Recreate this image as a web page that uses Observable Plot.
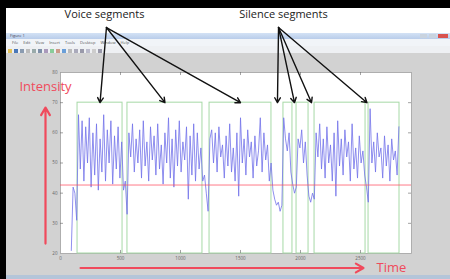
<!DOCTYPE html>
<html><head><meta charset="utf-8">
<script src="https://cdn.jsdelivr.net/npm/d3@7"></script>
<script src="https://cdn.jsdelivr.net/npm/@observablehq/plot@0.6"></script>
<style>
html,body{margin:0;padding:0;background:#000;}
#wrap{position:relative;width:450px;height:279px;overflow:hidden;background:#000;font-family:"Open Sans",sans-serif;}
.abs{position:absolute;}
.menu span{margin-right:5px;}
.tb i{display:inline-block;width:4px;height:4px;margin-right:2px;vertical-align:middle;}
</style></head><body>
<div id="wrap">
  <div class="abs" style="left:6px;top:8px;width:444px;height:25px;background:#fff"></div>
  <div class="abs" style="left:6px;top:33px;width:444px;height:6px;background:linear-gradient(#d3e2f5,#b9cdea)">
    <span class="abs" style="left:4px;top:0px;font-size:4px;line-height:5px;color:#445">Figure 1</span>
    <span class="abs" style="left:414px;top:1px;width:7px;height:4px;background:#c9d3df"></span>
    <span class="abs" style="left:423px;top:1px;width:7px;height:4px;background:#c9d3df"></span>
    <span class="abs" style="left:432px;top:1px;width:10px;height:4px;background:#d9534f"></span>
  </div>
  <div class="abs menu" style="left:6px;top:39px;width:444px;height:7px;background:#f1f4f8;font-size:4px;line-height:7px;color:#555;padding-left:6px;box-sizing:border-box">
    <span>File</span><span>Edit</span><span>View</span><span>Insert</span><span>Tools</span><span>Desktop</span><span>Window</span><span>Help</span>
  </div>
  <div class="abs tb" style="left:6px;top:46px;width:444px;height:7px;background:#eef0f3;line-height:7px;padding-left:2px;box-sizing:border-box">
    <i style="background:#e3c25a"></i><i style="background:#4a78b8"></i><i style="background:#8a9bb0"></i><i style="background:#bbb"></i><i style="background:#9aa"></i><i style="background:#7d8fa8"></i><i style="background:#a9b"></i><i style="background:#8c9"></i><i style="background:#c98"></i><i style="background:#6a9fd8"></i><i style="background:#bbb"></i><i style="background:#aab"></i><i style="background:#99a"></i><i style="background:#bbc"></i><i style="background:#ccc"></i><i style="background:#99a"></i>
  </div>
  <div class="abs" style="left:6px;top:53px;width:444px;height:222px;background:#d2d2d2"></div>
  <div class="abs" style="left:6px;top:275px;width:444px;height:4px;background:#b4c5d9"></div>
  <div id="chart" class="abs" style="left:0;top:0"></div>
</div>
<script>
// signal: intensity per analysis frame
const startFrame = 90;
const frameStep = 15;
const intensity = [
  21, 42, 40, 31,
  66,48,64,44,62,50,65,42,60,46,63,41,58,47,66,44,61,50,64,43,59,48,62,45,57,
  41,44,33,
  60,52,63,47,58,50,61,45,64,49,57,44,62,51,59,46,63,48,56,43,60,50,65,45,58,42,61,49,64,47,57,51,62,38,59,46,63,44,60,48,55,
  44,46,40,34,
  58,61,50,60,47,62,52,56,45,59,49,63,47,55,44,60,39,65,50,58,46,61,52,57,45,59,49,54,65,47,60,51,56,44,50,
  41,38,36,37,34,36,
  65,58,54,60,47,
  43,40,42,
  58,55,61,50,57,46,
  39,37,40,38,
  60,52,63,48,58,45,62,50,56,44,60,39,64,49,58,46,61,52,57,44,63,48,55,45,59,50,54,46,
  42,37,
  68,50,57,47,60,52,55,45,59,49,56,44,58,51,54,46,62
];
// voice segments (start frame, end frame)
const segStarts = [142, 558, 1242, 1858, 1967, 2117, 2567];
const segEnds   = [517, 1183, 1758, 1933, 2067, 2542, 2825];
const boxTop = 70;
const threshold = 42.7;
const xTicks = [0, 500, 1000, 1500, 2000, 2500];
const yTicks = [20, 30, 40, 50, 60, 70, 80];
const voiceArrowSegs = [0, 1, 2];      // segments pointed at
const silenceArrowGaps = [2, 3, 4, 5]; // gaps (after segment i) pointed at

const series = intensity.map((v, i) => ({frame: startFrame + i * frameStep, v}));
const segments = segStarts.map((s, i) => ({start: s, end: segEnds[i]}));

// annotation anchors (data space, outside the axes)
const voiceLabel = {x: 367, y: 99.3, apexX: 383, apexY: 94.9};
const silenceLabel = {x: 1858, y: 99.3, apexX: 1817, apexY: 94.9};
const intensityLabel = {x: -125, y: 75.4, arrowY1: 23.3, arrowY2: 68.4};
const timeLabel = {x: 2758, y: 15.2, arrowX1: 167, arrowX2: 2525};

const voiceArrows = voiceArrowSegs.map(i => ({x1: voiceLabel.apexX, y1: voiceLabel.apexY, x2: (segments[i].start + segments[i].end) / 2, y2: boxTop}));
const silenceArrows = silenceArrowGaps.map(i => ({x1: silenceLabel.apexX, y1: silenceLabel.apexY, x2: (segments[i].end + segments[i + 1].start) / 2, y2: boxTop}));

const red = "#f04a5c";
const xMax = 2925;
const tickX = xTicks.filter(t => t > 0);
const tickY = yTicks.filter(t => t > 20 && t < 80);

const plot = Plot.plot({
  width: 450, height: 279,
  marginLeft: 60, marginRight: 39, marginTop: 72, marginBottom: 26,
  x: {domain: [0, xMax]},
  y: {domain: [20, 80]},
  style: {background: "transparent", overflow: "visible", fontFamily: "'Open Sans', sans-serif"},
  marks: [
    Plot.frame({fill: "white", stroke: "#a0a0a0", strokeWidth: 0.8}),
    Plot.rect(segments, {x1: "start", x2: "end", y1: 20, y2: boxTop, fill: "none", stroke: "#a6d9a6", strokeWidth: 1}),
    Plot.line(series, {x: "frame", y: "v", stroke: "#7272ea", strokeWidth: 0.8}),
    Plot.ruleY([threshold], {stroke: "#ff4d62", strokeWidth: 1, strokeOpacity: 0.75}),
    Plot.ruleX(tickX, {x: d => d, y1: 20, y2: 21, stroke: "#666", strokeWidth: 0.6}),
    Plot.ruleX(tickX, {x: d => d, y1: 79, y2: 80, stroke: "#666", strokeWidth: 0.6}),
    Plot.ruleY(tickY, {y: d => d, x1: 0, x2: 25, stroke: "#666", strokeWidth: 0.6}),
    Plot.ruleY(tickY, {y: d => d, x1: xMax - 25, x2: xMax, stroke: "#666", strokeWidth: 0.6}),
    Plot.axisX({ticks: xTicks, tickSize: 0, tickPadding: 3, fontSize: 4.5, fill: "#666", tickFormat: d => String(d), label: null}),
    Plot.axisY({ticks: yTicks, tickSize: 0, tickPadding: 3, fontSize: 4.5, fill: "#666", tickFormat: d => String(d), label: null}),
    Plot.arrow(voiceArrows, {x1: "x1", y1: "y1", x2: "x2", y2: "y2", stroke: "#111", strokeWidth: 1.4, headLength: 6}),
    Plot.arrow(silenceArrows, {x1: "x1", y1: "y1", x2: "x2", y2: "y2", stroke: "#111", strokeWidth: 1.4, headLength: 6}),
    Plot.text(["Voice segments"], {x: voiceLabel.x, y: voiceLabel.y, text: d => d, fontSize: 11, fill: "#222"}),
    Plot.text(["Silence segments"], {x: silenceLabel.x, y: silenceLabel.y, text: d => d, fontSize: 11, fill: "#222"}),
    Plot.text(["Intensity"], {x: intensityLabel.x, y: intensityLabel.y, text: d => d, fontSize: 13, fill: red}),
    Plot.text(["Time"], {x: timeLabel.x, y: timeLabel.y, text: d => d, fontSize: 13, fill: red}),
    Plot.arrow([intensityLabel], {x1: "x", y1: "arrowY1", x2: "x", y2: "arrowY2", stroke: red, strokeWidth: 2.2, headLength: 6}),
    Plot.arrow([timeLabel], {x1: "arrowX1", y1: "y", x2: "arrowX2", y2: "y", stroke: red, strokeWidth: 2.2, headLength: 6})
  ]
});
document.getElementById("chart").appendChild(plot);
</script>
</body></html>
